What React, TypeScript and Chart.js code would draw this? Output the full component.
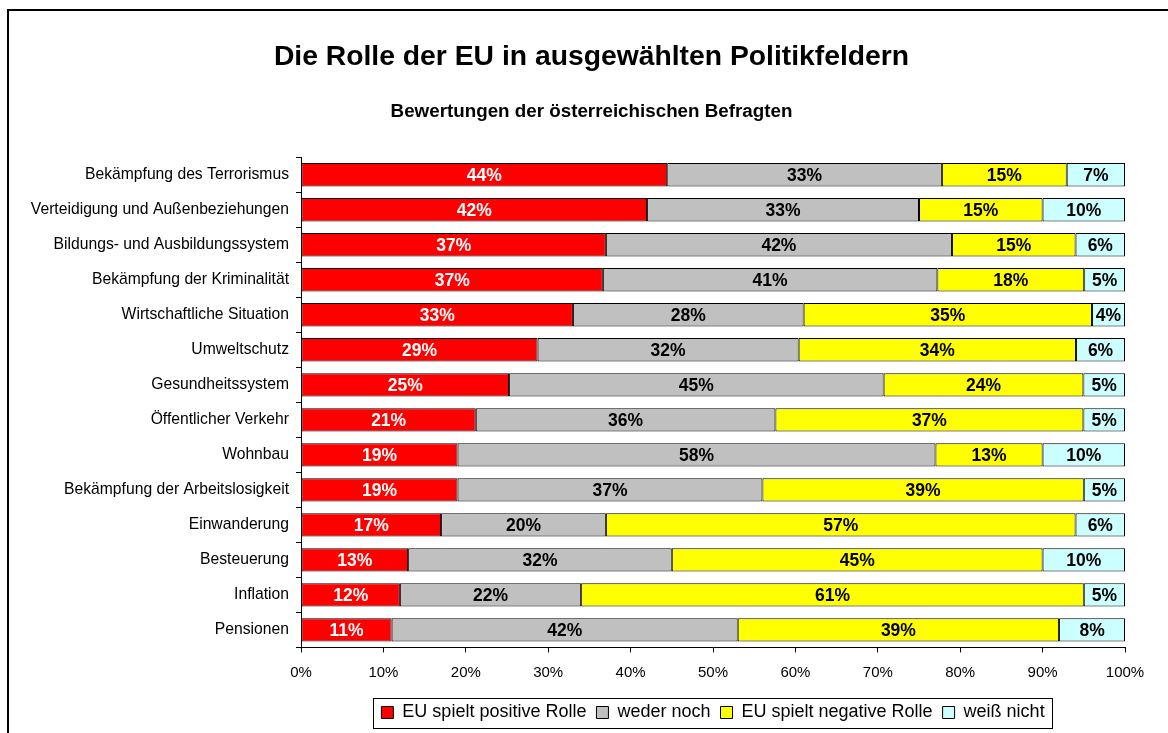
import React, { useEffect, useRef } from "react";
import { Chart, registerables } from "chart.js";

Chart.register(...registerables);

const categories = [
  "Bekämpfung des Terrorismus",
  "Verteidigung und Außenbeziehungen",
  "Bildungs- und Ausbildungssystem",
  "Bekämpfung der Kriminalität",
  "Wirtschaftliche Situation",
  "Umweltschutz",
  "Gesundheitssystem",
  "Öffentlicher Verkehr",
  "Wohnbau",
  "Bekämpfung der Arbeitslosigkeit",
  "Einwanderung",
  "Besteuerung",
  "Inflation",
  "Pensionen",
];

const positive = [44, 42, 37, 37, 33, 29, 25, 21, 19, 19, 17, 13, 12, 11];
const neither = [33, 33, 42, 41, 28, 32, 45, 36, 58, 37, 20, 32, 22, 42];
const negative = [15, 15, 15, 18, 35, 34, 24, 37, 13, 39, 57, 45, 61, 39];
const dontKnow = [7, 10, 6, 5, 4, 6, 5, 5, 10, 5, 6, 10, 5, 8];

const seriesNames = [
  "EU spielt positive Rolle",
  "weder noch",
  "EU spielt negative Rolle",
  "weiß nicht",
];
const seriesColors = ["#FF0000", "#C0C0C0", "#FFFF00", "#CCFFFF"];
const labelColors = ["#FFFFFF", "#000000", "#000000", "#000000"];

const titleText = "Die Rolle der EU in ausgewählten Politikfeldern";
const subtitleText = "Bewertungen der österreichischen Befragten";

const FONT = "'Liberation Sans', Arial, Helvetica, sans-serif";

const rawSeries = [positive, neither, negative, dontKnow];
const totals = categories.map((_, i) =>
  rawSeries.reduce((s, arr) => s + arr[i], 0)
);

const valueLabels = {
  id: "valueLabels",
  afterDatasetsDraw(chart: any) {
    const ctx = chart.ctx;
    ctx.save();
    ctx.font = `bold 17.5px ${FONT}`;
    ctx.textAlign = "center";
    ctx.textBaseline = "middle";
    chart.data.datasets.forEach((ds: any, di: number) => {
      const meta = chart.getDatasetMeta(di);
      meta.data.forEach((bar: any, i: number) => {
        const raw = rawSeries[di][i];
        const cx = (bar.x + bar.base) / 2;
        ctx.fillStyle = labelColors[di];
        ctx.fillText(`${raw}%`, cx, bar.y + 1);
      });
    });
    ctx.restore();
  },
};

const legendFrame = {
  id: "legendFrame",
  afterDraw(chart: any) {
    const lg = chart.legend;
    if (!lg || !lg.legendHitBoxes || !lg.legendHitBoxes.length) return;
    const hb = lg.legendHitBoxes;
    const ctx = chart.ctx;
    const left = hb[0].left - 8;
    const last = hb[hb.length - 1];
    const right = last.left + last.width + 8;
    const cy = hb[0].top + hb[0].height / 2;
    ctx.save();
    ctx.strokeStyle = "#000";
    ctx.lineWidth = 1;
    ctx.strokeRect(
      Math.round(left) + 0.5,
      Math.round(cy - 15) + 0.5,
      Math.round(right - left),
      30
    );
    ctx.restore();
  },
};

export default function App() {
  const ref = useRef<HTMLCanvasElement | null>(null);

  useEffect(() => {
    if (!ref.current) return;
    const chart = new Chart(ref.current, {
      type: "bar",
      data: {
        labels: categories,
        datasets: rawSeries.map((arr, di) => ({
          label: seriesNames[di],
          data: arr.map((v, i) => (v / totals[i]) * 100),
          backgroundColor: seriesColors[di],
          borderColor: "#000000",
          borderWidth: 1,
          borderSkipped: false,
          barPercentage: 0.667,
          categoryPercentage: 1,
        })),
      },
      options: {
        indexAxis: "y",
        responsive: false,
        animation: false,
        devicePixelRatio: 1,
        layout: { padding: { left: 0, right: 0, top: 0, bottom: 1.5 } },
        scales: {
          x: {
            stacked: true,
            min: 0,
            max: 100,
            afterFit: (s: any) => {
              s.height = 46.1;
            },
            ticks: {
              stepSize: 10,
              padding: 11.6,
              color: "#000",
              font: { family: FONT, size: 15 },
              callback: (v: any) => `${v}%`,
              maxRotation: 0,
            },
            grid: {
              drawOnChartArea: false,
              drawTicks: true,
              tickLength: 5,
              color: "#000",
            },
            border: { display: true, color: "#000", width: 1 },
          },
          y: {
            stacked: true,
            afterFit: (s: any) => {
              s.width = 301;
            },
            ticks: {
              padding: 7,
              color: "#000",
              font: { family: FONT, size: 15.7 },
            },
            grid: {
              offset: true,
              drawOnChartArea: false,
              drawTicks: true,
              tickLength: 5,
              color: "#000",
            },
            border: { display: true, color: "#000", width: 1 },
          },
          yRight: {
            type: "category",
            axis: "y",
            position: "right",
            display: true,
            afterFit: (s: any) => {
              s.width = 58;
            },
            ticks: { display: false },
            grid: { display: false, drawTicks: false },
            border: { display: false },
          },
        },
        plugins: {
          title: {
            display: true,
            text: titleText,
            color: "#000",
            font: { family: FONT, size: 28.3, weight: "bold" },
            padding: { top: 40.2, bottom: 0 },
          },
          subtitle: {
            display: true,
            text: subtitleText,
            color: "#000",
            font: { family: FONT, size: 18.8, weight: "bold" },
            padding: { top: 26.2, bottom: 34.3 },
          },
          legend: {
            display: true,
            position: "bottom",
            fullSize: false,
            labels: {
              boxWidth: 12,
              boxHeight: 12,
              padding: 10,
              color: "#000",
              font: { family: FONT, size: 18 },
            },
          },
          tooltip: { enabled: false },
        },
      },
      plugins: [valueLabels, legendFrame],
    } as any);
    return () => chart.destroy();
  }, []);

  return (
    <div
      style={{
        position: "fixed",
        left: 0,
        top: 0,
        width: 1168,
        height: 733,
        overflow: "hidden",
        background: "#fff",
      }}
    >
      <canvas
        ref={ref}
        width={1183}
        height={733}
        style={{ position: "absolute", left: 0, top: 0, width: 1183, height: 733 }}
      />
      <div
        style={{
          position: "absolute",
          left: 7,
          top: 9,
          width: 1300,
          height: 900,
          borderLeft: "2px solid #000",
          borderTop: "2px solid #000",
          pointerEvents: "none",
        }}
      />
    </div>
  );
}
